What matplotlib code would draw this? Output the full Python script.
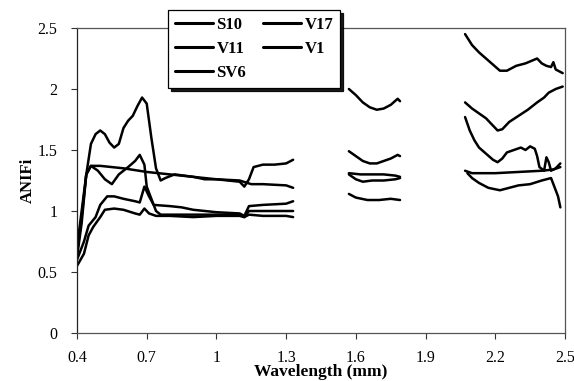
import numpy as np
import matplotlib
matplotlib.use("Agg")
import matplotlib.pyplot as plt

nan = np.nan

# wavelength / ANIFi pairs per sample; nan marks the water-absorption gaps
wl_s10 = [0.40, 0.42, 0.44, 0.46, 0.48, 0.50, 0.52, 0.54, 0.56, 0.58, 0.60, 0.62,
          0.64, 0.66, 0.68, 0.70, 0.72, 0.74, 0.76, 0.78, 0.82, 0.86, 0.90, 0.95,
          1.00, 1.05, 1.10, 1.12, 1.14, 1.16, 1.20, 1.25, 1.30, 1.33, nan,
          1.57, 1.60, 1.63, 1.66, 1.69, 1.72, 1.75, 1.78, 1.79, nan,
          2.07, 2.10, 2.13, 2.16, 2.19, 2.22, 2.25, 2.29, 2.33, 2.38, 2.40, 2.42,
          2.44, 2.45, 2.46, 2.48, 2.49]
anifi_s10 = [0.62, 0.90, 1.30, 1.55, 1.63, 1.66, 1.63, 1.56, 1.52, 1.55, 1.68, 1.74,
             1.78, 1.86, 1.93, 1.88, 1.60, 1.35, 1.25, 1.27, 1.30, 1.29, 1.28, 1.26,
             1.26, 1.25, 1.24, 1.20, 1.26, 1.36, 1.38, 1.38, 1.39, 1.42, nan,
             2.00, 1.95, 1.89, 1.85, 1.83, 1.84, 1.87, 1.92, 1.90, nan,
             2.45, 2.36, 2.30, 2.25, 2.20, 2.15, 2.15, 2.19, 2.21, 2.25, 2.21, 2.19,
             2.18, 2.22, 2.16, 2.14, 2.13]

wl_v17 = [0.40, 0.42, 0.44, 0.46, 0.50, 0.60, 0.70, 0.80, 0.90, 1.00, 1.10, 1.15,
          1.20, 1.30, 1.33, nan,
          1.57, 1.60, 1.63, 1.66, 1.69, 1.72, 1.75, 1.78, 1.79, nan,
          2.07, 2.10, 2.13, 2.16, 2.19, 2.21, 2.23, 2.26, 2.30, 2.34, 2.38, 2.41,
          2.43, 2.46, 2.49]
anifi_v17 = [0.70, 1.00, 1.30, 1.37, 1.37, 1.35, 1.32, 1.30, 1.28, 1.26, 1.25, 1.22,
             1.22, 1.21, 1.19, nan,
             1.49, 1.45, 1.41, 1.39, 1.39, 1.41, 1.43, 1.46, 1.45, nan,
             1.89, 1.84, 1.80, 1.76, 1.70, 1.66, 1.67, 1.73, 1.78, 1.83, 1.89, 1.93,
             1.97, 2.00, 2.02]

wl_v11 = [0.40, 0.42, 0.44, 0.46, 0.49, 0.52, 0.55, 0.58, 0.62, 0.65, 0.67, 0.69,
          0.70, 0.72, 0.74, 0.76, 0.85, 0.95, 1.05, 1.10, 1.12, 1.14, 1.20, 1.30,
          1.33, nan,
          1.57, 1.62, 1.67, 1.72, 1.77, 1.79, nan,
          2.07, 2.09, 2.11, 2.13, 2.16, 2.19, 2.21, 2.23, 2.25, 2.28, 2.31, 2.33,
          2.35, 2.37, 2.38, 2.39, 2.41, 2.42, 2.43, 2.44, 2.46, 2.48]
anifi_v11 = [0.65, 0.95, 1.30, 1.37, 1.33, 1.26, 1.22, 1.30, 1.36, 1.41, 1.46, 1.38,
             1.20, 1.10, 1.00, 0.97, 0.97, 0.97, 0.97, 0.97, 0.95, 1.00, 1.00, 1.00,
             1.00, nan,
             1.31, 1.30, 1.30, 1.30, 1.29, 1.28, nan,
             1.77, 1.66, 1.58, 1.52, 1.47, 1.42, 1.40, 1.43, 1.48, 1.50, 1.52, 1.50,
             1.53, 1.51, 1.45, 1.36, 1.33, 1.44, 1.40, 1.33, 1.35, 1.39]

wl_v1 = [0.40, 0.43, 0.45, 0.48, 0.50, 0.53, 0.56, 0.60, 0.65, 0.67, 0.69, 0.71,
         0.73, 0.80, 0.85, 0.90, 0.95, 1.00, 1.10, 1.12, 1.14, 1.20, 1.30, 1.33, nan,
         1.57, 1.60, 1.63, 1.67, 1.72, 1.77, 1.79, nan,
         2.07, 2.10, 2.20, 2.30, 2.40, 2.45, 2.48]
anifi_v1 = [0.60, 0.75, 0.88, 0.95, 1.05, 1.12, 1.12, 1.10, 1.08, 1.07, 1.20, 1.12,
            1.05, 1.04, 1.03, 1.01, 1.00, 0.99, 0.98, 0.96, 1.04, 1.05, 1.06, 1.08, nan,
            1.30, 1.26, 1.24, 1.25, 1.25, 1.26, 1.27, nan,
            1.33, 1.31, 1.31, 1.32, 1.33, 1.34, 1.36]

wl_sv6 = [0.40, 0.43, 0.45, 0.47, 0.50, 0.52, 0.56, 0.60, 0.65, 0.67, 0.69, 0.71,
          0.74, 0.80, 0.90, 1.00, 1.10, 1.12, 1.14, 1.20, 1.30, 1.33, nan,
          1.57, 1.60, 1.65, 1.70, 1.75, 1.79, nan,
          2.08, 2.10, 2.13, 2.17, 2.22, 2.26, 2.30, 2.35, 2.40, 2.44, 2.45, 2.47, 2.48]
anifi_sv6 = [0.55, 0.65, 0.80, 0.87, 0.95, 1.01, 1.02, 1.01, 0.98, 0.97, 1.02, 0.98,
             0.96, 0.96, 0.95, 0.96, 0.96, 0.95, 0.97, 0.96, 0.96, 0.95, nan,
             1.14, 1.11, 1.09, 1.09, 1.10, 1.09, nan,
             1.31, 1.27, 1.23, 1.19, 1.17, 1.19, 1.21, 1.22, 1.25, 1.27, 1.22, 1.12, 1.03]

samples = ["S10", "V17", "V11", "V1", "SV6"]
xticks = [0.4, 0.7, 1.0, 1.3, 1.6, 1.9, 2.2, 2.5]
xticklabels = ["0.4", "0.7", "1", "1.3", "1.6", "1.9", "2.2", "2.5"]
yticks = [0, 0.5, 1, 1.5, 2, 2.5]
yticklabels = ["0", "0.5", "1", "1.5", "2", "2.5"]

plt.rcParams["font.family"] = ["Liberation Serif", "DejaVu Serif"]

fig = plt.figure(figsize=(5.74, 3.81), dpi=100)
ax = fig.add_axes([77 / 574, 1 - 333 / 381, 488 / 574, 305 / 381])

series = [(wl_s10, anifi_s10), (wl_v17, anifi_v17), (wl_v11, anifi_v11),
          (wl_v1, anifi_v1), (wl_sv6, anifi_sv6)]
lines = {}
for name, (x, y) in zip(samples, series):
    (ln,) = ax.plot(x, y, color="black", lw=1.8, solid_capstyle="round",
                    solid_joinstyle="round")
    lines[name] = ln

ax.set_xlim(0.4, 2.5)
ax.set_ylim(0, 2.5)
ax.set_xticks(xticks)
ax.set_xticklabels(xticklabels)
ax.set_yticks(yticks)
ax.set_yticklabels(yticklabels)
ax.tick_params(direction="out", length=4, width=0.8, color="#333",
               labelsize=11.5)
ax.tick_params(axis="x", pad=8)
ax.tick_params(axis="y", pad=10)

for side in ["top", "right", "bottom"]:
    ax.spines[side].set_linestyle((0, (1.5, 1)))
    ax.spines[side].set_color("#555")
    ax.spines[side].set_linewidth(0.9)
ax.spines["left"].set_color("#222")
ax.spines["left"].set_linewidth(0.9)

ax.set_xlabel("Wavelength (mm)", fontsize=12.5, fontweight="bold", labelpad=-1)
ax.set_ylabel("ANIFi", fontsize=12, fontweight="bold", labelpad=1)

order = ["S10", "V11", "SV6", "V17", "V1"]
leg = ax.legend([lines[n] for n in order], order, ncol=2,
                loc="upper left", bbox_to_anchor=(168 / 574, 1 - 10 / 381),
                bbox_transform=fig.transFigure, borderaxespad=0,
                fancybox=False, shadow={"color": "black", "alpha": 0.9},
                edgecolor="black", framealpha=1, handlelength=2.3,
                handletextpad=0.2, columnspacing=1.0, labelspacing=0.5,
                borderpad=0.4, prop={"weight": "bold", "size": 12})
leg.get_frame().set_linewidth(0.9)
for h in leg.get_lines():
    h.set_linewidth(2.2)

fig.savefig("out.png", dpi=100)
